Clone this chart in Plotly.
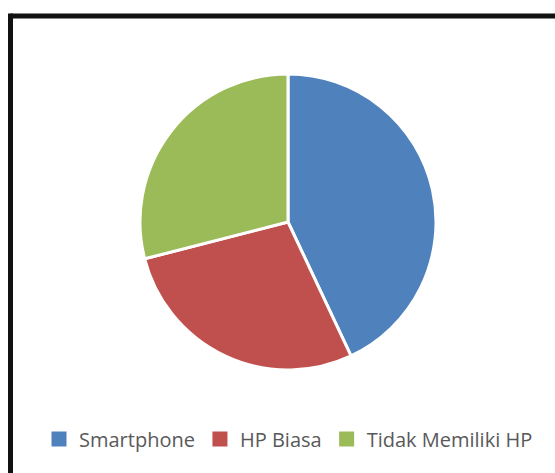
import plotly.graph_objects as go

# Kepemilikan HP
labels = ["Smartphone", "HP Biasa", "Tidak Memiliki HP"]
values = [43, 28, 29]
colors = ["#4F81BD", "#C0504D", "#9BBB59"]

W, H = 555, 473

fig = go.Figure()
fig.add_trace(
    go.Pie(
        labels=labels,
        values=values,
        marker=dict(colors=colors, line=dict(color="white", width=3)),
        sort=False,
        direction="clockwise",
        rotation=0,
        textinfo="none",
        hoverinfo="label+percent",
        showlegend=False,
        domain=dict(x=[140 / W, 436 / W], y=[(H - 371) / H, (H - 73) / H]),
    )
)

# legend keys: solid squares in the slice colours
for name, col in zip(labels, colors):
    fig.add_trace(
        go.Scatter(
            x=[None], y=[None], name=name, mode="markers",
            marker=dict(symbol="square", size=15, color=col),
            showlegend=True, hoverinfo="skip",
        )
    )

# frame along the top and left edges
fig.add_shape(type="line", xref="paper", yref="paper",
              x0=10.5 / W, x1=1.0, y0=1 - 16 / H, y1=1 - 16 / H,
              line=dict(color="#111111", width=5))
fig.add_shape(type="line", xref="paper", yref="paper",
              x0=10.5 / W, x1=10.5 / W, y0=0, y1=1 - 13.5 / H,
              line=dict(color="#111111", width=5))

fig.update_layout(
    width=W,
    height=H,
    margin=dict(l=0, r=0, t=0, b=0),
    paper_bgcolor="white",
    plot_bgcolor="white",
    xaxis=dict(visible=False),
    yaxis=dict(visible=False),
    showlegend=True,
    legend=dict(
        orientation="h",
        x=39 / W,
        xanchor="left",
        y=(H - 439) / H,
        yanchor="middle",
        font=dict(family="Open Sans", size=20, color="#595959"),
        itemsizing="trace",
        traceorder="normal",
    ),
)

fig.write_html("out.html")
